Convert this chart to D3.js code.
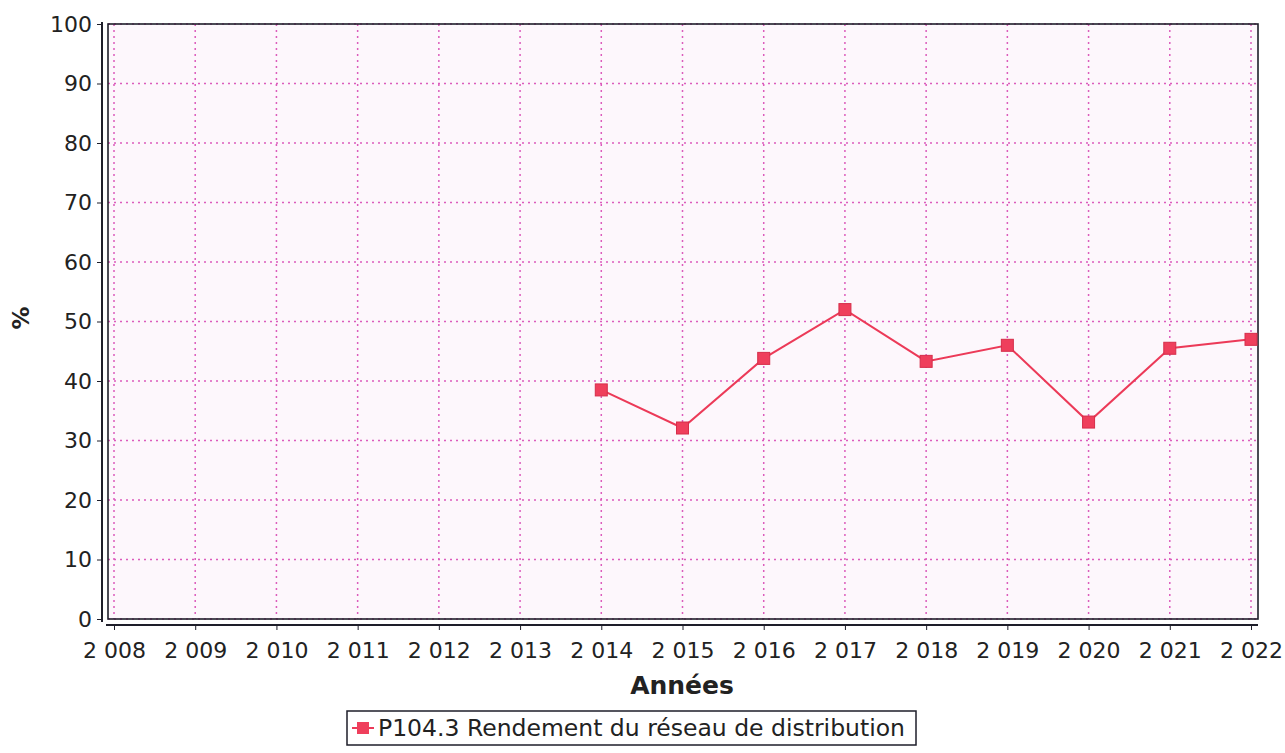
<!DOCTYPE html>
<html>
<head>
<meta charset="utf-8">
<script src="https://cdn.jsdelivr.net/npm/d3@7"></script>
<style>
  body { margin: 0; background: #fff; }
  text { font-family: "DejaVu Sans", sans-serif; fill: #222; }
</style>
</head>
<body>
<svg id="chart" width="1285" height="753"></svg>
<script>
// data
var years = [2008, 2009, 2010, 2011, 2012, 2013, 2014, 2015, 2016, 2017, 2018, 2019, 2020, 2021, 2022];
var yearLabels = ["2 008", "2 009", "2 010", "2 011", "2 012", "2 013", "2 014", "2 015", "2 016", "2 017", "2 018", "2 019", "2 020", "2 021", "2 022"];
var seriesYears = [2014, 2015, 2016, 2017, 2018, 2019, 2020, 2021, 2022];
var rendement = [38.5, 32.1, 43.8, 52.0, 43.3, 46.0, 33.1, 45.5, 47.0];
var yTicks = [0, 10, 20, 30, 40, 50, 60, 70, 80, 90, 100];
var seriesName = "P104.3 Rendement du réseau de distribution";

var svg = d3.select('#chart');
var frame = {left: 108, right: 1258, top: 24, bottom: 619};

var x = d3.scaleLinear().domain([2008, 2022]).range([114, 1251]);
var y = d3.scaleLinear().domain([0, 100]).range([frame.bottom, frame.top]);

// plot background
svg.append('rect')
  .attr('x', frame.left).attr('y', frame.top)
  .attr('width', frame.right - frame.left).attr('height', frame.bottom - frame.top)
  .attr('fill', '#fdf7fc');

// grid
var grid = svg.append('g').attr('stroke', '#dc5cbc').attr('stroke-width', 1.5).attr('stroke-dasharray', '2,4');
grid.selectAll('line.v').data(years).enter().append('line')
  .attr('x1', function(d) { return x(d); }).attr('x2', function(d) { return x(d); })
  .attr('y1', frame.top).attr('y2', frame.bottom);
grid.selectAll('line.h').data(yTicks).enter().append('line')
  .attr('x1', frame.left).attr('x2', frame.right)
  .attr('y1', function(d) { return y(d); }).attr('y2', function(d) { return y(d); });

// frame
svg.append('rect')
  .attr('x', frame.left).attr('y', frame.top)
  .attr('width', frame.right - frame.left).attr('height', frame.bottom - frame.top)
  .attr('fill', 'none').attr('stroke', '#1e1e2a').attr('stroke-width', 1.6);

// y axis (offset to the left of the frame)
var yAxis = d3.axisLeft(y).tickValues(yTicks).tickSize(5).tickPadding(5);
var gy = svg.append('g').attr('transform', 'translate(102,0)').call(yAxis);
gy.select('.domain').attr('d', 'M0,' + (frame.top - 2) + 'V' + (frame.bottom + 3)).attr('stroke', '#1e1e2a').attr('stroke-width', 2);
gy.selectAll('.tick line').attr('stroke', '#1e1e2a');
gy.selectAll('.tick text').style('font-size', '22px').attr('fill', '#222');

// x axis (offset below the frame)
var xAxis = d3.axisBottom(x).tickValues(years).tickSize(5).tickPadding(12)
  .tickFormat(function(d, i) { return yearLabels[i]; });
var gx = svg.append('g').attr('transform', 'translate(0,625)').call(xAxis);
gx.select('.domain').attr('d', 'M' + (frame.left - 2) + ',0H' + frame.right).attr('stroke', '#1e1e2a').attr('stroke-width', 2);
gx.selectAll('.tick line').attr('stroke', '#1e1e2a');
gx.selectAll('.tick text').style('font-size', '22px').attr('fill', '#222');

// axis titles
svg.append('text').attr('x', 682).attr('y', 694).attr('text-anchor', 'middle')
  .style('font-size', '25px').style('font-weight', 'bold').text('Années');
svg.append('text').attr('transform', 'translate(29,318) rotate(-90)').attr('text-anchor', 'middle')
  .style('font-size', '23px').style('font-weight', 'bold').text('%');

// series
var pts = seriesYears.map(function(d, i) { return [d, rendement[i]]; });
var line = d3.line().x(function(d) { return x(d[0]); }).y(function(d) { return y(d[1]); });
svg.append('path').datum(pts).attr('d', line)
  .attr('fill', 'none').attr('stroke', '#ec3a58').attr('stroke-width', 2);
svg.selectAll('rect.pt').data(pts).enter().append('rect')
  .attr('class', 'pt')
  .attr('x', function(d) { return x(d[0]) - 6; }).attr('y', function(d) { return y(d[1]) - 6; })
  .attr('width', 12).attr('height', 12)
  .attr('fill', '#ef3f5c').attr('stroke', '#d62e4a').attr('stroke-width', 1);

// legend
var lg = svg.append('g').attr('transform', 'translate(347,711)');
lg.append('rect').attr('width', 569).attr('height', 34).attr('fill', '#fff')
  .attr('stroke', '#1e1e2a').attr('stroke-width', 1.5);
lg.append('line').attr('x1', 5).attr('x2', 27).attr('y1', 17).attr('y2', 17)
  .attr('stroke', '#ec3a58').attr('stroke-width', 2);
lg.append('rect').attr('x', 10).attr('y', 11).attr('width', 12).attr('height', 12)
  .attr('fill', '#ef3f5c');
lg.append('text').attr('x', 31).attr('y', 25).style('font-size', '23.5px').text(seriesName);
</script>
</body>
</html>
